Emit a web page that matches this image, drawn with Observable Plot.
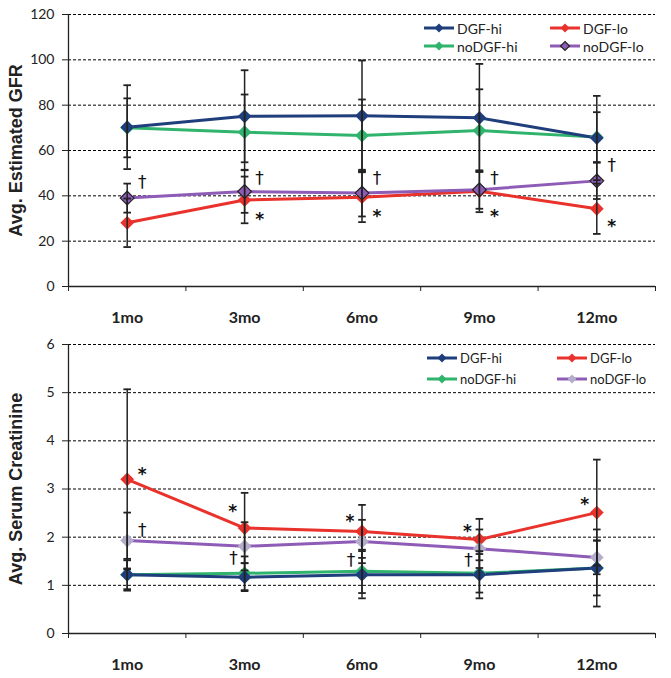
<!DOCTYPE html>
<html><head><meta charset="utf-8">
<script src="https://cdn.jsdelivr.net/npm/d3@7"></script>
<script src="https://cdn.jsdelivr.net/npm/@observablehq/plot@0.6"></script>
<style>
body{margin:0;background:#fff;}
#wrap{position:relative;width:671px;height:678px;}
.legend{position:absolute;font-family:Lato,"Open Sans",sans-serif;color:#222;display:grid;}
.legend .item{display:flex;align-items:center;white-space:nowrap;}
.legend svg{margin-right:3px;}
</style></head><body><div id="wrap"></div>
<script>
// ---- categories & series ----
const months = ["1mo", "3mo", "6mo", "9mo", "12mo"];
const seriesNames = ["DGF-hi", "DGF-lo", "noDGF-hi", "noDGF-lo"];
const seriesColors = ["#1f3e7c", "#e8322b", "#30b36c", "#8e5cb7"];

// ---- Avg. Estimated GFR (mean, SD) ----
const gfrDGFhi = [70.3, 75.1, 75.3, 74.4, 65.5];
const gfrDGFhiSD = [18.5, 20.3, 24.4, 23.8, 18.6];
const gfrDGFlo = [28.1, 38.2, 39.4, 42.0, 34.3];
const gfrDGFloSD = [10.7, 10.3, 11.0, 9.2, 11.1];
const gfrNoDGFhi = [70.0, 68.1, 66.6, 68.8, 65.9];
const gfrNoDGFhiSD = [13.0, 16.6, 15.9, 18.2, 11.0];
const gfrNoDGFlo = [39.0, 41.9, 41.2, 42.7, 46.6];
const gfrNoDGFloSD = [6.4, 9.4, 10.3, 8.4, 8.0];
const gfrTicks = [0, 20, 40, 60, 80, 100, 120];
// significance marks (month, value, side)
const gfrDaggers = [["1mo", 45.9], ["3mo", 47.6], ["6mo", 47.6], ["9mo", 47.6], ["12mo", 53.4]];
const gfrStars = [["3mo", 31.3], ["6mo", 32.6], ["9mo", 32.6], ["12mo", 28.2]];

// ---- Avg. Serum Creatinine (mean, SD) ----
const crDGFhi = [1.22, 1.17, 1.22, 1.22, 1.36];
const crDGFhiSD = [0.30, 0.29, 0.49, 0.49, 0.80];
const crDGFlo = [3.20, 2.19, 2.12, 1.95, 2.51];
const crDGFloSD = [1.87, 0.73, 0.55, 0.43, 1.10];
const crNoDGFhi = [1.22, 1.25, 1.29, 1.25, 1.36];
const crNoDGFhiSD = [0.33, 0.35, 0.45, 0.40, 0.57];
const crNoDGFlo = [1.93, 1.81, 1.91, 1.76, 1.58];
const crNoDGFloSD = [0.58, 0.50, 0.45, 0.40, 0.35];
const crTicks = [0, 1, 2, 3, 4, 5, 6];
const crStars = [["1mo", 3.38, "right"], ["3mo", 2.62, "left"], ["6mo", 2.41, "left"], ["9mo", 2.19, "left"], ["12mo", 2.76, "left"]];
const crDaggers = [["1mo", 2.14, "right"], ["3mo", 1.56, "left"], ["6mo", 1.52, "left"], ["9mo", 1.52, "left"]];

function buildRows(means, sds) {
  return seriesNames.flatMap((s, k) => months.map((m, j) => ({series: s, i: j + 1, value: means[k][j], sd: sds[k][j]})));
}
const gfrRows = buildRows([gfrDGFhi, gfrDGFlo, gfrNoDGFhi, gfrNoDGFlo], [gfrDGFhiSD, gfrDGFloSD, gfrNoDGFhiSD, gfrNoDGFloSD]);
const crRows = buildRows([crDGFhi, crDGFlo, crNoDGFhi, crNoDGFlo], [crDGFhiSD, crDGFloSD, crNoDGFhiSD, crNoDGFloSD]);

const capSymbol = {draw(ctx, size) { const w = Math.sqrt(size / Math.PI); ctx.moveTo(-w, 0); ctx.lineTo(w, 0); }};
const mIndex = m => months.indexOf(m) + 1;
// draw order: lo series underneath
const drawOrder = ["DGF-lo", "noDGF-lo", "noDGF-hi", "DGF-hi"];

function makeChart({rows, ticks, label, height, marginBottom, markerFills, markerStrokes, stars, daggers}) {
  const sorted = rows.slice().sort((a, b) => drawOrder.indexOf(a.series) - drawOrder.indexOf(b.series));
  const caps = rows.flatMap(d => [{i: d.i, y: d.value + d.sd}, {i: d.i, y: d.value - d.sd}]);
  const sym = (arr) => arr.map(([m, v, side]) => ({i: mIndex(m), v, side: side || "right"}));
  const st = sym(stars), dg = sym(daggers);
  const fillOf = s => markerFills[seriesNames.indexOf(s)];
  const strokeOf = s => markerStrokes[seriesNames.indexOf(s)];
  return Plot.plot({
    width: 671, height, marginLeft: 68, marginRight: 16, marginTop: 14, marginBottom,
    x: {domain: [0.5, 5.5]},
    y: {domain: [ticks[0], ticks[ticks.length - 1]]},
    color: {domain: seriesNames, range: seriesColors},
    style: {fontFamily: "Lato, 'Open Sans', sans-serif", color: "#222", background: "white"},
    marks: [
      Plot.gridY(ticks.slice(1), {stroke: "#000", strokeOpacity: 1, strokeDasharray: "3,2", strokeWidth: 1}),
      Plot.axisY(ticks, {tickSize: 6, tickPadding: 8, fontSize: 14, label: null, stroke: "#222"}),
      Plot.axisY([], {label, labelAnchor: "center", labelArrow: "none", labelOffset: 59, fontSize: 18, fontWeight: "bold", fontFamily: "'Liberation Sans', Arial, sans-serif"}),
      Plot.axisX(months.map((m, j) => j + 1), {tickSize: 0, tickPadding: 25, tickFormat: i => months[i - 1], fontSize: 16, fontWeight: "bold", label: null}),
      Plot.axisX(d3.range(months.length + 1).map(j => j + 0.5), {tickSize: 5, tickFormat: () => "", label: null, stroke: "#222"}),
      Plot.ruleY([ticks[0]], {stroke: "#222", strokeWidth: 1.3}),
      Plot.ruleX([0.5], {stroke: "#222", strokeWidth: 1.3}),
      Plot.line(sorted, {x: "i", y: "value", z: "series", stroke: "series", strokeWidth: 3}),
      Plot.dot(sorted, {x: "i", y: "value", symbol: "diamond2", r: 6.2, fill: d => fillOf(d.series), stroke: d => strokeOf(d.series), strokeWidth: 1.2}),
      Plot.ruleX(rows, {x: "i", y1: d => d.value - d.sd, y2: d => d.value + d.sd, stroke: "#222", strokeWidth: 1.5}),
      Plot.dot(caps, {x: "i", y: "y", symbol: capSymbol, r: 3.8, fill: "none", stroke: "#222", strokeWidth: 1.8}),
      Plot.text(st.filter(d => d.side === "right"), {x: "i", y: "v", text: () => "*", dx: 15, dy: 4, fontSize: 17, fontWeight: "bold", fill: "#111", fontFamily: "'DejaVu Sans', sans-serif"}),
      Plot.text(st.filter(d => d.side === "left"), {x: "i", y: "v", text: () => "*", dx: -12, dy: 4, fontSize: 17, fontWeight: "bold", fill: "#111", fontFamily: "'DejaVu Sans', sans-serif"}),
      Plot.text(dg.filter(d => d.side === "right"), {x: "i", y: "v", text: () => "†", dx: 15, fontSize: 17, fill: "#111", fontFamily: "'DejaVu Sans', sans-serif"}),
      Plot.text(dg.filter(d => d.side === "left"), {x: "i", y: "v", text: () => "†", dx: -11, fontSize: 17, fill: "#111", fontFamily: "'DejaVu Sans', sans-serif"})
    ]
  });
}

const wrap = document.getElementById("wrap");
const top1 = makeChart({
  rows: gfrRows, ticks: gfrTicks, label: "Avg. Estimated GFR", height: 330, marginBottom: 44,
  markerFills: seriesColors, markerStrokes: ["none", "none", "none", "#222"],
  stars: gfrStars, daggers: gfrDaggers
});
const bottom = makeChart({
  rows: crRows, ticks: crTicks, label: "Avg. Serum Creatinine", height: 348, marginBottom: 45,
  markerFills: ["#1f3e7c", "#e8322b", "#30b36c", "#b3accb"], markerStrokes: ["none", "none", "none", "none"],
  stars: crStars, daggers: crDaggers
});
top1.style.display = "block"; bottom.style.display = "block";
wrap.appendChild(top1); wrap.appendChild(bottom);

function legend({left, top, colW, rowH, fontSize, fills, strokes}) {
  const div = document.createElement("div");
  div.className = "legend";
  div.style.left = left + "px"; div.style.top = top + "px";
  div.style.gridTemplateColumns = `${colW}px ${colW}px`;
  div.style.gridAutoRows = rowH + "px";
  div.style.fontSize = fontSize + "px";
  seriesNames.forEach((s, k) => {
    const it = document.createElement("div"); it.className = "item";
    const st = strokes[k] === "none" ? "" : `stroke="${strokes[k]}" stroke-width="1.2"`;
    it.innerHTML = `<svg width="30" height="12"><line x1="0" x2="30" y1="6" y2="6" stroke="${seriesColors[k]}" stroke-width="3"/><path d="M15,1.5L19.5,6L15,10.5L10.5,6Z" fill="${fills[k]}" ${st}/></svg><span>${s}</span>`;
    div.appendChild(it);
  });
  wrap.appendChild(div);
}
legend({left: 424, top: 19, colW: 126, rowH: 18, fontSize: 14, fills: seriesColors, strokes: ["none", "none", "none", "#222"]});
legend({left: 427, top: 347, colW: 130, rowH: 21, fontSize: 13, fills: ["#1f3e7c", "#e8322b", "#30b36c", "#b3accb"], strokes: ["none", "none", "none", "none"]});
</script></body></html>
